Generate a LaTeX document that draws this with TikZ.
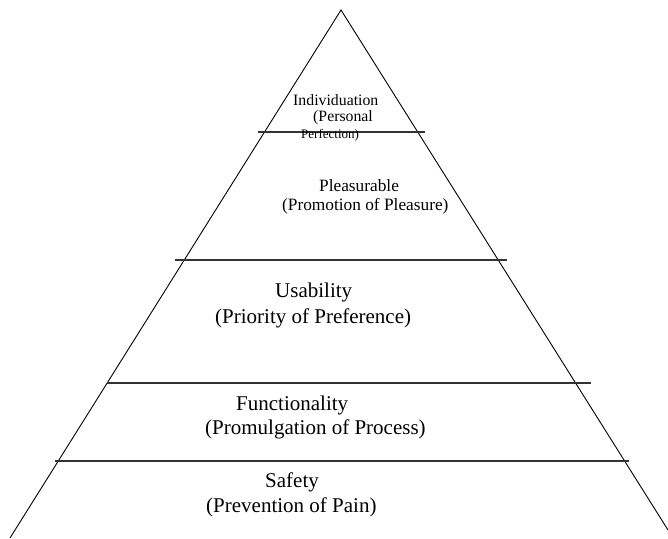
\documentclass[tikz,border=0pt]{standalone}
\usepackage{fontspec}
\setmainfont{Liberation Serif}
\begin{document}
\begin{tikzpicture}[x=1pt,y=-1pt,
  leg/.style={line width=0.9pt, black},
  tier/.style={line width=1.1pt, black!80},
  lbl/.style={anchor=west, inner sep=0pt, text=black},
  tiny/.style={lbl, font=\fontsize{13}{15}\selectfont},
  small/.style={lbl, font=\fontsize{15.8}{18}\selectfont},
  mid/.style={lbl, font=\fontsize{17.3}{20}\selectfont},
  big/.style={lbl, font=\fontsize{21}{25}\selectfont}]
\useasboundingbox (0,0) rectangle (668,538);

% pyramid outline
\coordinate (apex) at (341,10);
\coordinate (bl) at (10,538);
\coordinate (br) at (668,530);
\draw[leg] (bl) -- (apex) -- (br);

% tier dividers
\coordinate (t1a) at (258,132); \coordinate (t1b) at (425,132);
\coordinate (t2a) at (175,260); \coordinate (t2b) at (507,260);
\coordinate (t3a) at (107,383); \coordinate (t3b) at (591,383);
\coordinate (t4a) at (55,461);  \coordinate (t4b) at (629,461);
\draw[tier] (t1a) -- (t1b);
\draw[tier] (t2a) -- (t2b);
\draw[tier] (t3a) -- (t3b);
\draw[tier] (t4a) -- (t4b);

% labels
\node[small] (ind1) at (293,100) {Individuation};
\node[small] (ind2) at (313,118) {(Personal};
\node[tiny]  (ind3) at (301,135) {Perfection)};

\node[mid] (ple1) at (319,186) {Pleasurable};
\node[mid] (ple2) at (282,206) {(Promotion of Pleasure)};

\node[big] (usa1) at (275,292) {Usability};
\node[big] (usa2) at (215,318) {(Priority of Preference)};

\node[big] (fun1) at (236,405) {Functionality};
\node[big] (fun2) at (205,429) {(Promulgation of Process)};

\node[big] (saf1) at (265,482) {Safety};
\node[big] (saf2) at (206,507) {(Prevention of Pain)};
\end{tikzpicture}
\end{document}
